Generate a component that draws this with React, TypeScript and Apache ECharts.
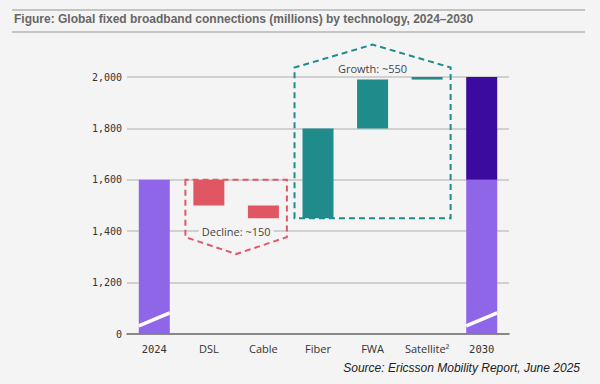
import React, { useEffect, useRef } from "react";
import * as echarts from "echarts";

const categories = ["2024", "DSL", "Cable", "Fiber", "FWA", "Satellite²", "2030"];
const start2024 = 1600;
const techChanges = [-100, -50, 350, 190, 10]; // DSL, Cable, Fiber, FWA, Satellite
const end2030 = 2000;
const axisMin = 1000; // broken axis: this level is shown as "0"
const axisMax = 2000;
const axisStep = 200;
const brokenBars = [0, 6];
const breakLow = 1032;
const breakHigh = 1082;

const annotations = [
  { from: 1, to: 2, flat: 1600, side: 1377, apex: 1311, label: "Decline: ~150", labelAt: 1400, color: "#E0596A", bg: true },
  { from: 3, to: 5, flat: 1450, side: 2037, apex: 2126, label: "Growth: ~550", labelAt: 2034, color: "#1E8C8C", bg: false },
];

const BG = "#F4F4F4";
const LIGHT_PURPLE = "#9066E8";
const DARK_PURPLE = "#3A0B9E";
const RED = "#E05763";
const TEAL = "#1F8B8B";
const BAR_W = 31;

export default function App() {
  const ref = useRef<HTMLDivElement>(null);
  useEffect(() => {
    if (!ref.current) return;
    const chart = echarts.init(ref.current, undefined, { renderer: "svg" });

    const base: any[] = [0];
    const delta: any[] = ["-"];
    const deltaColors: string[] = [""];
    let level = start2024;
    techChanges.forEach((c) => {
      const next = level + c;
      base.push(Math.min(level, next));
      delta.push(Math.abs(c));
      deltaColors.push(c < 0 ? RED : TEAL);
      level = next;
    });
    base.push(0);
    delta.push("-");
    deltaColors.push("");
    const light = categories.map((_, i) => (i === 0 || i === categories.length - 1 ? start2024 : "-"));
    const dark = categories.map((_, i) => (i === categories.length - 1 ? end2030 - start2024 : "-"));

    const option: any = {
      animation: false,
      backgroundColor: BG,
      grid: { left: 127, right: 91, top: 77, bottom: 50 },
      xAxis: {
        type: "category",
        data: categories,
        axisLine: { lineStyle: { color: "#707070", width: 1.5 } },
        axisTick: { show: false },
        axisLabel: {
          interval: 0,
          margin: 9,
          formatter: (v: string) => (/^\d+$/.test(v) ? `{n|${v}}` : `{t|${v}}`),
          rich: {
            n: { fontFamily: "DejaVu Sans Mono", fontSize: 10.5, color: "#333" },
            t: { fontFamily: "Open Sans", fontSize: 11, color: "#333" },
          },
        },
      },
      yAxis: {
        type: "value",
        min: axisMin,
        max: axisMax,
        interval: axisStep,
        axisLine: { show: false },
        axisTick: { show: false },
        splitLine: { lineStyle: { color: "#C6C6C6", width: 1.5 } },
        axisLabel: {
          margin: 5,
          fontFamily: "DejaVu Sans Mono",
          fontSize: 10,
          color: "#333",
          formatter: (v: number) => (v === axisMin ? "0" : v.toLocaleString("en-US")),
        },
      },
      series: [
        {
          type: "bar",
          stack: "w",
          barWidth: BAR_W,
          clip: true,
          itemStyle: { color: "transparent" },
          data: base,
          silent: true,
        },
        {
          type: "bar",
          stack: "w",
          barWidth: BAR_W,
          clip: true,
          itemStyle: { color: LIGHT_PURPLE },
          data: light,
        },
        {
          type: "bar",
          stack: "w",
          barWidth: BAR_W,
          clip: true,
          data: delta.map((v, i) => (v === "-" ? "-" : { value: v, itemStyle: { color: deltaColors[i] } })),
        },
        {
          type: "bar",
          stack: "w",
          barWidth: BAR_W,
          clip: true,
          itemStyle: { color: DARK_PURPLE },
          data: dark,
        },
        {
          type: "custom",
          z: 5,
          clip: false,
          data: brokenBars.map((i) => [i, axisMin]),
          renderItem: (params: any, api: any) => {
            const idx = api.value(0);
            const p1 = api.coord([idx, breakLow]);
            const p2 = api.coord([idx, breakHigh]);
            return {
              type: "line",
              shape: { x1: p1[0] - BAR_W / 2, y1: p1[1], x2: p1[0] + BAR_W / 2, y2: p2[1] },
              style: { stroke: "#FFFFFF", lineWidth: 3.5 },
            };
          },
        },
        {
          type: "custom",
          z: 6,
          clip: false,
          data: annotations.map((a) => [a.from, a.flat]),
          renderItem: (params: any, api: any) => {
            const a = annotations[params.dataIndex];
            const band = api.size([1, 0])[0];
            const pad = band * 0.43;
            const l = api.coord([a.from, a.flat]);
            const r = api.coord([a.to, a.flat]);
            const ySide = api.coord([a.from, a.side])[1];
            const yApex = api.coord([a.from, a.apex])[1];
            const yLabel = api.coord([a.from, a.labelAt])[1];
            const left = l[0] - pad;
            const right = r[0] + pad;
            const mid = (l[0] + r[0]) / 2;
            return {
              type: "group",
              children: [
                {
                  type: "polygon",
                  shape: {
                    points: [
                      [left, l[1]],
                      [left, ySide],
                      [mid, yApex],
                      [right, ySide],
                      [right, l[1]],
                    ],
                  },
                  style: { fill: "none", stroke: a.color, lineWidth: 2, lineDash: [6, 4] },
                },
                {
                  type: "text",
                  style: {
                    text: a.label,
                    x: mid,
                    y: yLabel,
                    align: "center",
                    verticalAlign: "middle",
                    fill: "#444",
                    font: "11px 'Open Sans'",
                    backgroundColor: a.bg ? BG : "transparent",
                    padding: [1, 3],
                  },
                },
              ],
            };
          },
        },
      ],
      graphic: [
        { type: "line", shape: { x1: 12, y1: 10, x2: 585, y2: 10 }, style: { stroke: "#B4B4B4", lineWidth: 1.5 } },
        { type: "line", shape: { x1: 12, y1: 32, x2: 585, y2: 32 }, style: { stroke: "#B4B4B4", lineWidth: 1.5 } },
        {
          type: "text",
          left: 14,
          top: 13,
          style: {
            text: "Figure: Global fixed broadband connections (millions) by technology, 2024–2030",
            font: "bold 12px 'Liberation Sans'",
            fill: "#666",
          },
        },
        {
          type: "text",
          right: 20,
          top: 362,
          style: {
            text: "Source: Ericsson Mobility Report, June 2025",
            font: "italic 12px 'Liberation Sans'",
            fill: "#222",
          },
        },
      ],
    };
    chart.setOption(option);
    return () => chart.dispose();
  }, []);
  return (
    <div
      ref={ref}
      style={{ position: "absolute", left: 0, top: 0, width: 600, height: 384, background: BG }}
    />
  );
}
